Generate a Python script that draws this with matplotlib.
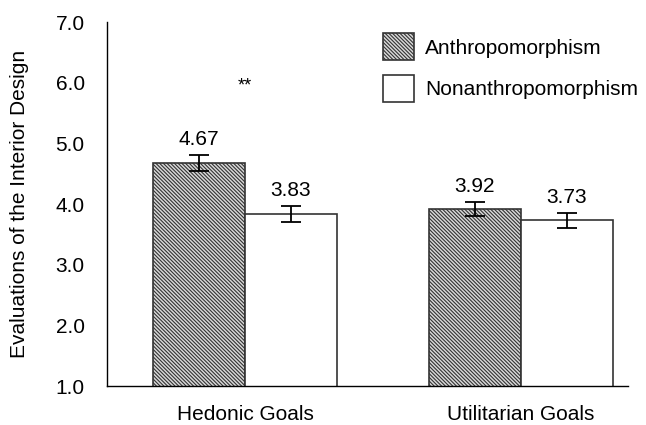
import numpy as np
import matplotlib.pyplot as plt

plt.rcParams['font.family'] = ['Liberation Sans', 'DejaVu Sans']
plt.rcParams['hatch.linewidth'] = 0.8

# données
goals = ['Hedonic Goals', 'Utilitarian Goals']
anthro = [4.67, 3.92]
nonanthro = [3.83, 3.73]
anthro_err = [0.13, 0.12]
nonanthro_err = [0.13, 0.12]
series_labels = ['Anthropomorphism', 'Nonanthropomorphism']
sig_marks = ['**', '']
sig_y = 5.94

fig = plt.figure(figsize=(6.46, 4.25), dpi=100)
ax = fig.add_axes([107 / 646, 1 - 386 / 425, (628 - 107) / 646, (386 - 22) / 425])

x = np.arange(len(goals))
w = 0.333

ax.bar(x - w / 2, anthro, w, color='#d8d8d8', edgecolor='#333333',
       hatch='\\' * 9, linewidth=1.2, label=series_labels[0], zorder=2)
ax.bar(x + w / 2, nonanthro, w, color='white', edgecolor='#333333',
       linewidth=1.2, label=series_labels[1], zorder=2)

ax.errorbar(x - w / 2, anthro, yerr=anthro_err, fmt='none', ecolor='black',
            elinewidth=1.3, capsize=7, capthick=1.3, zorder=3)
ax.errorbar(x + w / 2, nonanthro, yerr=nonanthro_err, fmt='none', ecolor='black',
            elinewidth=1.3, capsize=7, capthick=1.3, zorder=3)

for xi, v, e in zip(x - w / 2, anthro, anthro_err):
    ax.text(xi, v + e + 0.1, f'{v:.2f}', ha='center', va='bottom', fontsize=15)
for xi, v, e in zip(x + w / 2, nonanthro, nonanthro_err):
    ax.text(xi, v + e + 0.1, f'{v:.2f}', ha='center', va='bottom', fontsize=15)

for xi, s in zip(x, sig_marks):
    if s:
        ax.text(xi, sig_y, s, ha='center', va='center', fontsize=13)

ax.set_ylim(1, 7)
ax.set_xlim(-0.5, 1.388)
ax.set_yticks(np.arange(1, 8, 1.0))
ax.set_yticklabels([f'{v:.1f}' for v in np.arange(1, 8, 1.0)], fontsize=15)
ax.set_xticks(x)
ax.set_xticklabels(goals, fontsize=15)
ax.tick_params(axis='y', length=0, pad=16)
ax.tick_params(axis='x', length=0, pad=14)
ax.set_ylabel('Evaluations of the Interior Design', fontsize=15, labelpad=19)

for s in ['top', 'right']:
    ax.spines[s].set_visible(False)
ax.spines['left'].set_linewidth(1.0)
ax.spines['bottom'].set_linewidth(1.0)

ax.legend(loc='upper right', bbox_to_anchor=(1.055, 1.02), frameon=False, fontsize=15,
          handlelength=1.5, handleheight=1.6, handletextpad=0.5, labelspacing=0.7)

fig.savefig('out.png', dpi=100)
